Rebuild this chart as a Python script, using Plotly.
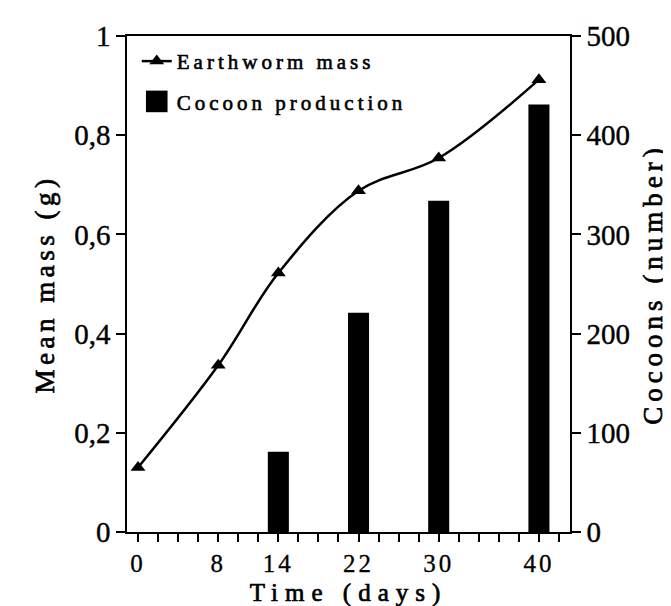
import plotly.graph_objects as go

# ---- data ----
days = [0, 8, 14, 22, 30, 40]
mass_g = [0.13, 0.336, 0.522, 0.688, 0.754, 0.912]

cocoon_days = [14, 22, 30, 40]
cocoons = [81, 221, 334, 431]

x_tick_vals = [0, 8, 14, 22, 30, 40]
x_tick_text = ["0", "8", "14", "22", "30", "40"]
y_tick_vals = [0, 0.2, 0.4, 0.6, 0.8, 1]
y_tick_text = ["0", "0,2", "0,4", "0,6", "0,8", "1"]
y2_tick_vals = [0, 100, 200, 300, 400, 500]
y2_tick_text = ["0", "100", "200", "300", "400", "500"]

SERIF = "Liberation Serif"

fig = go.Figure()

fig.add_trace(go.Scatter(
    x=days, y=mass_g, name="Earthworm mass",
    mode="lines+markers",
    line=dict(color="black", width=2.5, shape="spline", smoothing=1),
    marker=dict(symbol="triangle-up", size=13, color="black"),
    yaxis="y", legendgroup="a",
))

fig.add_trace(go.Bar(
    x=cocoon_days, y=cocoons, name="Cocoon production",
    width=2.1, marker=dict(color="black", line=dict(width=0)),
    yaxis="y2", legendgroup="b",
))

fig.update_layout(
    width=671, height=606,
    margin=dict(l=119, r=109, t=25, b=82),
    paper_bgcolor="white", plot_bgcolor="white",
    font=dict(family=SERIF, color="black"),
    showlegend=True,
    legend=dict(
        x=0.022, y=0.99, xanchor="left", yanchor="top",
        bgcolor="rgba(0,0,0,0)", borderwidth=0,
        font=dict(size=21, family=SERIF),
        traceorder="grouped", tracegroupgap=10, itemwidth=30,
    ),
    xaxis=dict(
        range=[-1.1, 43.1],
        tickmode="array", tickvals=x_tick_vals, ticktext=x_tick_text,
        ticks="outside", ticklen=8, tickwidth=1.5, tickcolor="black",
        minor=dict(tickmode="linear", tick0=0, dtick=2, ticks="outside",
                   ticklen=8, tickwidth=1.5, tickcolor="black"),
        showline=True, linecolor="black", linewidth=1.5, mirror=True,
        showgrid=False, zeroline=False,
        tickfont=dict(size=25, family=SERIF),
        title=dict(text="Time (days)", font=dict(size=25, family=SERIF),
                   standoff=8),
    ),
    yaxis=dict(
        range=[0, 1],
        tickmode="array", tickvals=y_tick_vals, ticktext=y_tick_text,
        ticks="outside", ticklen=9, tickwidth=1.5, tickcolor="black",
        showline=True, linecolor="black", linewidth=1.5,
        showgrid=False, zeroline=False,
        tickfont=dict(size=29, family=SERIF),
        title=dict(text="Mean mass (g)", font=dict(size=27, family=SERIF),
                   standoff=12),
    ),
    yaxis2=dict(
        range=[0, 500], overlaying="y", side="right",
        tickmode="array", tickvals=y2_tick_vals, ticktext=y2_tick_text,
        ticks="outside", ticklen=9, tickwidth=1.5, tickcolor="black",
        showline=True, linecolor="black", linewidth=1.5,
        showgrid=False, zeroline=False,
        tickfont=dict(size=29, family=SERIF),
        title=dict(text="Cocoons (number)", font=dict(size=27, family=SERIF),
                   standoff=14),
    ),
)

post = """
var gd = document.getElementById('{plot_id}');
function ls(sel, v, bold){ gd.querySelectorAll(sel).forEach(function(e){
    e.style.letterSpacing = v;
    if (bold) { e.style.stroke = 'black'; e.style.strokeWidth = bold; }
}); }
ls('.g-xtitle text', '7px', '0.7px');
ls('.g-ytitle text', '4.5px', '0.7px');
ls('.g-y2title text', '5px', '0.7px');
ls('.legendtext', '4px', '0.6px');
ls('.xtick text', '3px', '0.3px');
ls('.ytick text', '0px', '0.4px');
ls('.y2tick text', '0px', '0.4px');
gd.querySelectorAll('.legend [clip-path]').forEach(function(e){ e.removeAttribute('clip-path'); });
var tr = gd.querySelectorAll('.legend .traces');
if (tr.length > 1) {
  var p = tr[1].querySelector('.legendpoints path');
  if (p) {
    var t = p.getAttribute('transform') || '';
    p.setAttribute('transform', t + ' scale(1.8)');
  }
  var m = tr[0].querySelector('.legendpoints path.point');
  if (m) {
    var t0 = m.getAttribute('transform') || '';
    m.setAttribute('transform', t0 + ' scale(1.4)');
  }
}
"""

fig.write_html("out.html", post_script=post)
